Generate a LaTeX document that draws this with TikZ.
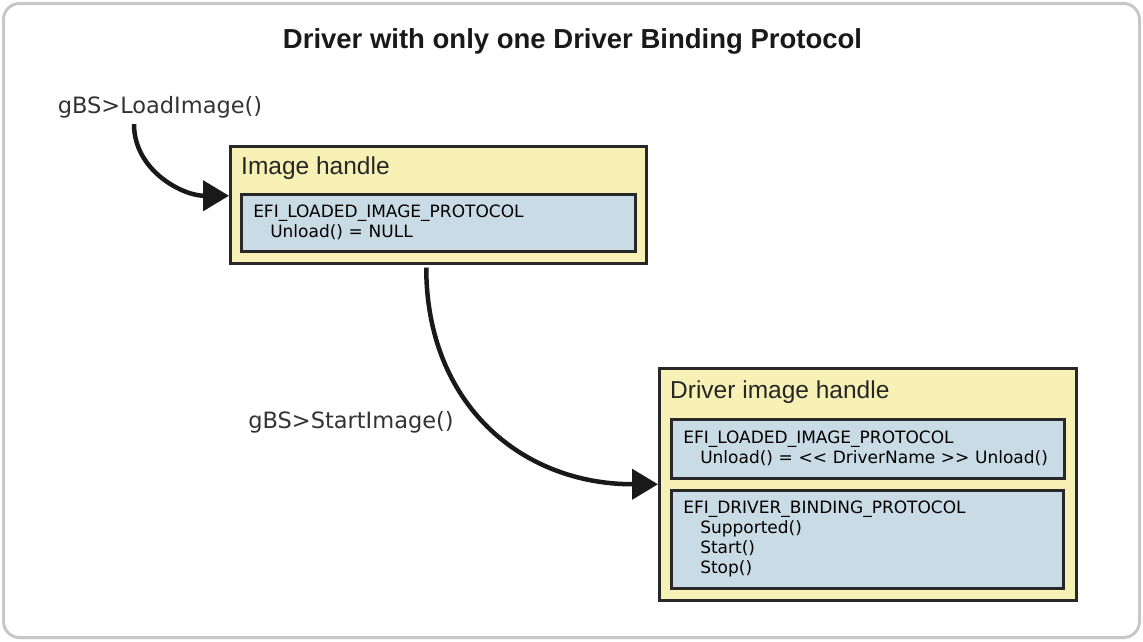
\documentclass[tikz,border=0pt]{standalone}
\usepackage{fontspec}
\setmainfont{Liberation Sans}
\newfontfamily\verdfont{DejaVu Sans}
\usetikzlibrary{positioning, arrows.meta}
\definecolor{handlefill}{RGB}{247,241,181}
\definecolor{protofill}{RGB}{201,219,229}
\definecolor{boxline}{RGB}{40,40,40}

\begin{document}
\begin{tikzpicture}[x=1pt, y=-1pt,
  frame/.style={draw=black!22, line width=3pt, rounded corners=16pt},
  handle/.style={draw=boxline, fill=handlefill, line width=2.5pt, anchor=north west, inner sep=0},
  proto/.style={draw=boxline, fill=protofill, line width=2.5pt, anchor=north west,
    inner xsep=12pt, inner ysep=0, align=left, font=\verdfont\fontsize{17}{20}\selectfont},
  hlab/.style={anchor=west, inner sep=0, black!85, font=\fontsize{24.5}{28}\selectfont},
  call/.style={inner sep=0, black!80, font=\verdfont\fontsize{22.5}{26}\selectfont},
  flow/.style={-{Triangle[length=26pt, width=30pt]}, line width=4.5pt, black!90}]
\useasboundingbox (0,0) rectangle (1143,641);
% Background frame and title
\node[frame, minimum width=1136pt, minimum height=634pt] (bg) at (571.5,320.5) {};
\node[font=\bfseries\fontsize{27.5}{32}\selectfont, black!90] (title) at (572.5,41) {Driver with only one Driver Binding Protocol};
% Image handle
\node[handle, minimum width=416pt, minimum height=117pt] (img) at (229,145) {};
\node[hlab] (imgLab) at (241,168) {Image handle};
\node[proto, text width=370pt, minimum height=57pt] (imgLip) at (240,193)
  {EFI\_LOADED\_IMAGE\_PROTOCOL\\ \hspace*{17pt}Unload() = NULL};
% Driver image handle
\node[handle, minimum width=417pt, minimum height=232pt] (drv) at (658,367) {};
\node[hlab] (drvLab) at (670,392) {Driver image handle};
\node[proto, text width=369pt, minimum height=59pt] (drvLip) at (670,418)
  {EFI\_LOADED\_IMAGE\_PROTOCOL\\ \hspace*{17pt}Unload() = << DriverName >> Unload()};
\node[proto, text width=368pt, minimum height=98pt] (drvDbp) at (670,489)
  {EFI\_DRIVER\_BINDING\_PROTOCOL\\ \hspace*{17pt}Supported()\\ \hspace*{17pt}Start()\\ \hspace*{17pt}Stop()};
% Calls
\node[call] (load) at (160,107) {gBS>LoadImage()};
\node[call] (start) at (351,422) {gBS>StartImage()};
\draw[flow] ([xshift=-26pt, yshift=-6pt]load.south) to[out=-90, in=180] ([yshift=9pt]img.west);
\draw[flow] ([xshift=-12pt, yshift=-3pt]img.south) to[out=-90, in=180, looseness=1.1] (drv.west);
\end{tikzpicture}
\end{document}
